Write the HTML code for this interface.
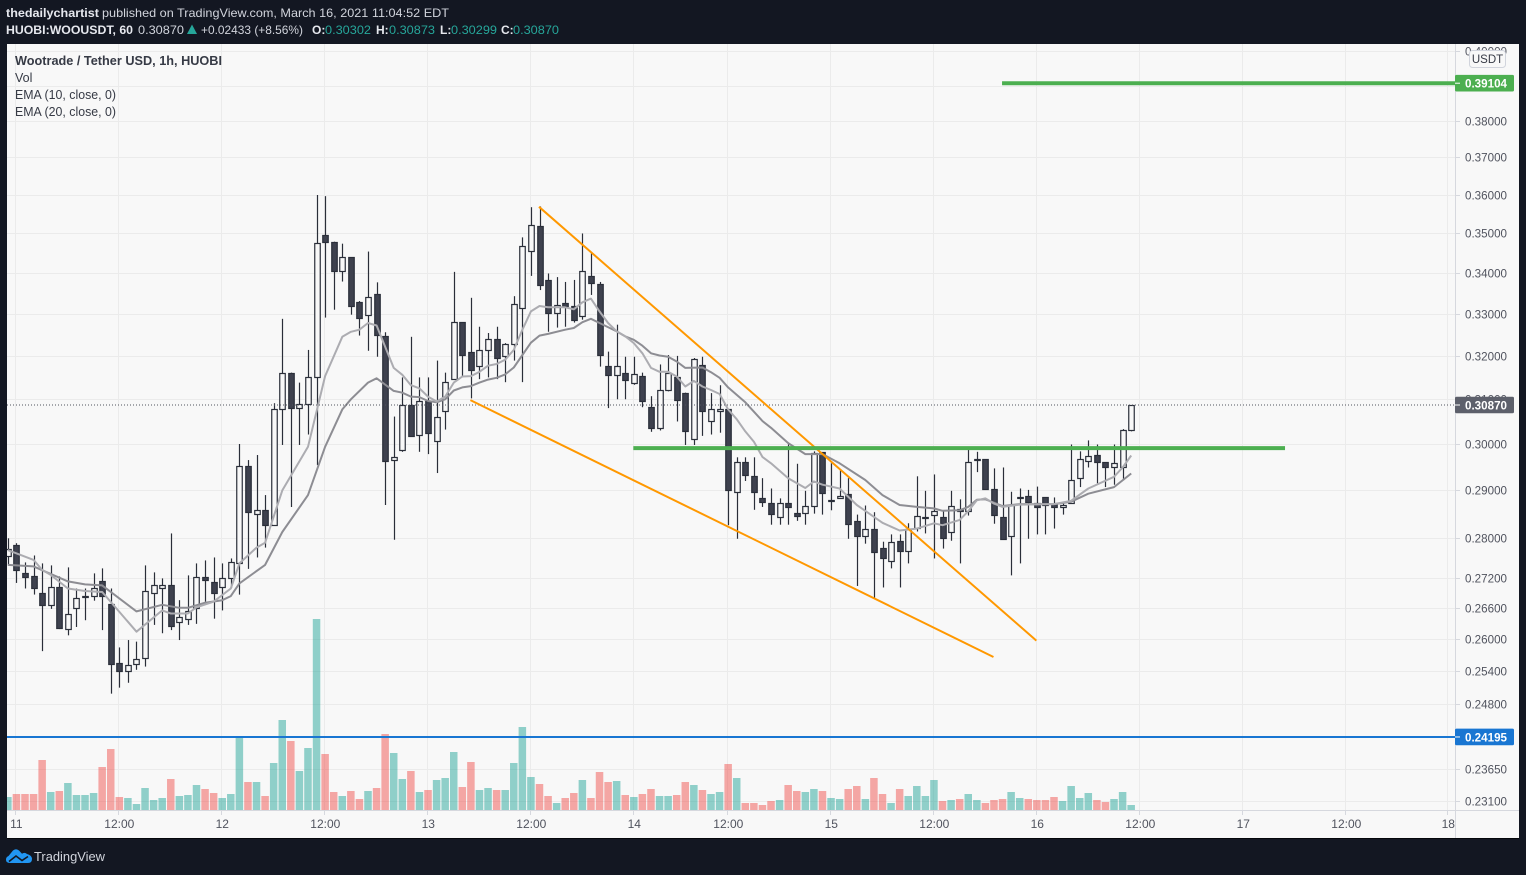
<!DOCTYPE html>
<html>
<head>
<meta charset="utf-8">
<title>HUOBI:WOOUSDT chart</title>
<style>
html,body{margin:0;padding:0;background:#131722;width:1526px;height:875px;overflow:hidden}
svg{display:block;font-family:"Liberation Sans",sans-serif}
</style>
</head>
<body>
<svg id="chart" xmlns="http://www.w3.org/2000/svg" width="1526" height="875" viewBox="0 0 1526 875">
  <defs>
    <clipPath id="plot-clip"><rect x="7" y="44" width="1448" height="766"/></clipPath>
  </defs>
  <rect x="7" y="44" width="1512" height="794" fill="#f8f8f8"/>
  <rect x="7" y="838" width="1512" height="1" fill="#05070b"/>
  <g id="grid"></g>
  <g clip-path="url(#plot-clip)">
    <g id="volume"></g>
    <g id="candles"></g>
    <g id="emas"></g>
    <g id="drawings"></g>
  </g>
  <line x1="1455.5" y1="44" x2="1455.5" y2="838" stroke="#d6d8de"/>
  <line x1="7" y1="810.5" x2="1519" y2="810.5" stroke="#d6d8de"/>
  <g id="price-axis"></g>
  <g id="time-axis"></g>
  <g id="pills"></g>

  <g>
    <rect x="1469.5" y="50.5" width="36" height="17" rx="3" fill="#f8f8f8" stroke="#d1d4dc"/>
    <text x="1487.5" y="63" text-anchor="middle" font-size="11.5" fill="#363a45">USDT</text>
  </g>

  <g font-size="12">
    <text x="6" y="17" font-weight="bold" fill="#e6e8ee" textLength="93" lengthAdjust="spacingAndGlyphs">thedailychartist</text>
    <text x="102" y="17" fill="#d1d4dc" textLength="347" lengthAdjust="spacingAndGlyphs">published on TradingView.com, March 16, 2021 11:04:52 EDT</text>
    <text x="6" y="34" font-weight="bold" fill="#e6e8ee" textLength="127" lengthAdjust="spacingAndGlyphs">HUOBI:WOOUSDT, 60</text>
    <text x="138" y="34" fill="#d1d4dc" textLength="46" lengthAdjust="spacingAndGlyphs">0.30870</text>
    <polygon points="187,34 197,34 192,24.5" fill="#26a69a"/>
    <text x="201" y="34" fill="#d1d4dc" textLength="102" lengthAdjust="spacingAndGlyphs">+0.02433 (+8.56%)</text>
    <text x="312" y="34" font-weight="bold" fill="#e6e8ee">O:</text>
    <text x="325" y="34" fill="#26a69a" textLength="46" lengthAdjust="spacingAndGlyphs">0.30302</text>
    <text x="376" y="34" font-weight="bold" fill="#e6e8ee">H:</text>
    <text x="389" y="34" fill="#26a69a" textLength="46" lengthAdjust="spacingAndGlyphs">0.30873</text>
    <text x="440" y="34" font-weight="bold" fill="#e6e8ee">L:</text>
    <text x="451" y="34" fill="#26a69a" textLength="46" lengthAdjust="spacingAndGlyphs">0.30299</text>
    <text x="501" y="34" font-weight="bold" fill="#e6e8ee">C:</text>
    <text x="513" y="34" fill="#26a69a" textLength="46" lengthAdjust="spacingAndGlyphs">0.30870</text>
  </g>

  <g font-size="12.5" fill="#363a45">
    <text x="15" y="65" font-weight="bold" textLength="207" lengthAdjust="spacingAndGlyphs">Wootrade / Tether USD, 1h, HUOBI</text>
    <text x="15" y="82">Vol</text>
    <text x="15" y="99" textLength="101" lengthAdjust="spacingAndGlyphs">EMA (10, close, 0)</text>
    <text x="15" y="116" textLength="101" lengthAdjust="spacingAndGlyphs">EMA (20, close, 0)</text>
  </g>

  <g>
    <path d="M6 859.5q0-2.5 2.5-3.5l4.5-5.5q3-2.5 6 0l3 3.2q2.5-1.7 5 .3q4.500 1.200 5 4.500q.2 4.500-4 4.500H10q-4.200 0-4-3.500Z" fill="#2196f3"/>
    <path d="M9 861.500l7-5.500 6 4.500 6-4" fill="none" stroke="#131722" stroke-width="1.600"/>
    <text x="34" y="861" font-size="13" fill="#d1d4dc" textLength="71" lengthAdjust="spacingAndGlyphs">TradingView</text>
  </g>
</svg>

<script>
// One entry per hourly bar, left to right.
const opens = [.2763,.2787,.2729,.2723,.269,.2666,.2701,.2621,.266,.2682,.2684,.2713,.2668,.2555,.254,.2553,.2566,.269,.2699,.2705,.2633,.2639,.266,.2721,.2711,.2701,.2719,.2749,.2952,.2851,.2858,.2828,.3077,.3161,.3081,.309,.3152,.3497,.3479,.3404,.344,.3328,.3297,.3348,.3247,.2965,.2986,.3086,.302,.3095,.3006,.3074,.3147,.328,.3209,.3177,.3214,.324,.3199,.3228,.3314,.3456,.352,.3382,.3302,.3326,.3319,.3295,.3392,.3372,.3177,.3156,.3161,.3136,.3154,.3083,.3036,.3122,.3152,.3115,.3011,.3179,.3052,.3074,.3077,.2897,.296,.293,.2883,.2874,.2845,.2874,.2852,.2852,.2866,.2982,.2878,.2883,.2893,.2835,.2804,.282,.2781,.2753,.2795,.2775,.2822,.2842,.2849,.2845,.2812,.286,.2856,.2965,.2967,.2902,.2845,.2805,.2883,.2887,.2874,.2885,.2872,.2864,.2874,.2926,.2962,.2975,.296,.2949,.2949,.303];
const highs = [.28,.279,.2751,.2765,.2749,.2745,.2723,.2741,.2699,.2699,.2729,.2739,.2699,.2585,.2599,.2596,.2745,.2731,.2719,.281,.2676,.2725,.2749,.2755,.2761,.2749,.2759,.30,.2965,.2976,.289,.3091,.3288,.3161,.3138,.3214,.36,.3597,.3479,.3474,.344,.3331,.3454,.3377,.3256,.3061,.315,.3245,.315,.315,.3189,.3161,.3403,.328,.3339,.3269,.3254,.3269,.323,.3343,.349,.3568,.357,.3399,.339,.3378,.3383,.35,.3451,.3378,.321,.3274,.3198,.3198,.3161,.3107,.318,.3202,.32,.3115,.3195,.3198,.3114,.3132,.3077,.2971,.2971,.2971,.2926,.2904,.2883,.2999,.2957,.2899,.2984,.2982,.2958,.2945,.2926,.2849,.2868,.2854,.2793,.2808,.2808,.2831,.293,.2899,.2934,.2858,.2899,.2881,.2988,.2983,.2967,.2947,.2949,.2897,.2904,.2901,.2908,.2885,.2885,.2874,.2999,.2984,.3008,.2999,.296,.2999,.3033,.3087];
const lows = [.2746,.271,.2699,.2687,.2578,.2659,.262,.2608,.2624,.2637,.2675,.2618,.2499,.251,.2519,.2543,.2549,.2628,.2612,.2618,.2599,.2628,.263,.2673,.264,.2656,.27,.2687,.2738,.2761,.2781,.2828,.2998,.2865,.2998,.3021,.2954,.3291,.331,.3379,.3298,.3248,.3212,.3198,.2869,.2797,.2983,.3017,.2983,.2978,.2937,.3032,.3147,.3152,.3102,.3146,.315,.3146,.3139,.3189,.3139,.3393,.3358,.3257,.3267,.3269,.3279,.3286,.3346,.3175,.308,.31,.31,.3133,.3082,.3027,.303,.3118,.305,.2998,.2998,.3018,.3021,.3025,.2827,.2799,.292,.2859,.2865,.2828,.2828,.2828,.2836,.2828,.2851,.2849,.2858,.2883,.2799,.2704,.2789,.268,.2701,.2739,.2701,.2749,.2814,.281,.2759,.2779,.2795,.2749,.2847,.2939,.2902,.283,.2799,.2725,.2749,.2799,.2808,.2808,.282,.2849,.2872,.2907,.2949,.2915,.2907,.2912,.2921,.3028];
const closes = [.2779,.2735,.2721,.2699,.2667,.2701,.2622,.265,.268,.2684,.2699,.2684,.2553,.254,.2552,.2564,.2694,.2705,.2705,.2625,.2644,.2655,.2721,.2715,.269,.2719,.2751,.2952,.2855,.2858,.2828,.3077,.3161,.3081,.309,.3152,.3476,.3479,.3404,.344,.3319,.3289,.3341,.3249,.2964,.2971,.3086,.3017,.3095,.3024,.3061,.314,.328,.3202,.3168,.3214,.324,.3195,.3228,.3324,.3469,.3522,.337,.3302,.3321,.3318,.3285,.3404,.3375,.3202,.3156,.3177,.3145,.3158,.3097,.3036,.312,.3161,.3099,.3029,.3193,.3074,.3077,.3077,.2901,.296,.2933,.2897,.2876,.2851,.2874,.2864,.2847,.2866,.298,.2895,.288,.2889,.2829,.2804,.282,.2773,.2759,.2793,.2775,.282,.2847,.2844,.2856,.2801,.2866,.2856,.296,.2967,.2902,.2849,.2799,.287,.2885,.2876,.2864,.287,.2864,.287,.2923,.2967,.2973,.296,.2949,.2958,.3031,.3087];
const volumes = [13,16,16,16,50,18,19,27,15,15,17,43,61,13,12,6,22,10,12,31,14,15,25,21,17,12,16,73,28,28,14,47,90,69,39,62,191,56,18,14,19,11,19,22,76,57,31,39,18,20,30,32,58,23,48,20,22,20,20,47,83,33,26,14,7,12,17,30,12,38,28,29,15,13,16,21,14,14,15,28,25,20,16,18,46,32,7,7,5,9,10,25,19,18,21,19,12,11,21,24,11,32,16,7,21,14,24,14,30,9,10,11,16,10,7,10,11,18,12,11,10,10,13,9,24,12,17,10,8,11,18,5];

// EMA vertices: bar number and price at that bar.
const ema10Bars = [0,3,4,5,7,9,11,15,18,19,21,22,24,26,27,29,30,32,35,37,39,40,41,42,43,45,46,47,48,49,50,51,52,53,54,55,56,57,58,59,60,61,62,63,65,66,67,68,69,70,71,72,73,74,75,76,77,78,79,80,81,82,83,84,85,86,87,88,89,91,93,94,95,97,99,102,104,106,108,109,111,112,113,114,115,116,118,122,124,126,129,130,131];
const ema10Values = [.2776,.2756,.2736,.2726,.2699,.2694,.2692,.2615,.2656,.265,.265,.2662,.2673,.2699,.2749,.2781,.2791,.29,.2994,.3153,.3245,.3257,.3262,.3278,.3272,.3172,.3156,.3132,.3125,.3106,.3095,.3106,.3138,.3152,.3153,.3163,.3177,.3181,.3191,.3214,.3262,.3306,.3319,.3316,.3316,.3311,.3328,.3337,.3306,.3278,.3258,.3246,.323,.3206,.3172,.3163,.3163,.3152,.3129,.3142,.3129,.3121,.3112,.3077,.3055,.3028,.3005,.2972,.2958,.2926,.2905,.2919,.2912,.2904,.2869,.2832,.2816,.282,.2831,.2827,.2838,.2856,.2879,.2883,.2872,.2865,.287,.2871,.2878,.2904,.2929,.2949,.2975];
const ema20Bars = [0,3,5,7,9,11,15,18,20,21,23,25,26,27,30,32,35,37,39,40,42,43,45,46,47,48,49,50,51,52,53,54,55,56,57,58,59,60,61,62,63,65,66,67,68,69,71,72,73,74,75,76,77,78,79,81,82,83,84,86,88,89,91,93,95,97,100,102,104,106,108,109,111,112,113,114,116,118,122,124,126,129,131];
const ema20Values = [.2746,.2743,.2728,.2713,.2707,.2705,.2654,.2667,.2661,.2661,.2671,.2676,.2684,.2709,.2746,.2813,.289,.2994,.3077,.31,.3138,.3148,.3119,.3115,.3106,.3105,.3096,.3093,.31,.312,.3127,.313,.3138,.3145,.3149,.3157,.3173,.3202,.3231,.3248,.3252,.3262,.3266,.328,.3288,.3278,.3258,.3246,.3238,.3224,.3206,.3201,.3198,.3187,.3172,.3173,.3162,.3149,.3127,.3093,.3051,.3036,.3002,.2978,.2978,.2958,.2922,.289,.2869,.2865,.2862,.2857,.2858,.2865,.288,.2881,.2867,.2871,.2871,.2876,.2893,.2907,.2936];

// Axis ticks. An empty label means the tick's text is hidden by a price label in the reference.
const priceTicks = [.40,.39,.38,.37,.36,.35,.34,.33,.32,.31,.30,.29,.28,.272,.266,.26,.254,.248,.2365,.231];
const priceTickLabels = ["0.40000","","0.38000","0.37000","0.36000","0.35000","0.34000","0.33000","0.32000","0.31000","0.30000","0.29000","0.28000","0.27200","0.26600","0.26000","0.25400","0.24800","0.23650","0.23100"];
const timeTickBars = [1,13,25,37,49,61,73,84,96,108,120,132,144,156,168];
const timeTickLabels = ["11","12:00","12","12:00","13","12:00","14","12:00","15","12:00","16","12:00","17","12:00","18"];

// Drawn annotations (bar / price anchors).
const wedgeUpperBars = [62,120];
const wedgeUpperPrices = [.3569,.2598];
const wedgeLowerBars = [54,115];
const wedgeLowerPrices = [.3098,.2567];
const supportBars = [73,149];
const supportPrices = [.2991,.2991];
const targetBars = [116,169];
const targetPrices = [.3907,.3907];
const lastPrice = .3087;
const bluePrice = .2421;

const SVGNS = 'http://www.w3.org/2000/svg';
const xOf = b => 7.85 + b * 8.575;
const yOf = p => 195 + 1366 * Math.log(.36 / p);
const make = (tag, parent, attrs) => {
  const el = document.createElementNS(SVGNS, tag);
  for (const k in attrs) el.setAttribute(k, attrs[k]);
  parent.appendChild(el);
  return el;
};

// Grid and axes
const gridG = document.getElementById('grid');
const priceAxisG = document.getElementById('price-axis');
const timeAxisG = document.getElementById('time-axis');
priceTicks.forEach((p, i) => {
  const y = Math.round(yOf(p) - .1) + .5;
  const g = make('line', gridG, {x1: 7, x2: 1455, y1: y, y2: y, stroke: '#ebebeb'});
  
  
  const tick = make('line', priceAxisG, {x1: 1455, x2: 1460, y1: y, y2: y, stroke: '#d6d8de'});
  
  
  if (priceTickLabels[i]) {
    const t = make('text', priceAxisG, {x: 1465, y: y + 3.8, 'font-size': 12, fill: '#50535e', textLength: 42, lengthAdjust: 'spacingAndGlyphs'});
    
    
    t.textContent = priceTickLabels[i];
  }
});
timeTickBars.forEach((b, i) => {
  const x = Math.round(xOf(b)) - .5;
  const g = make('line', gridG, {x1: x, x2: x, y1: 44, y2: 810, stroke: '#ebebeb'});
  
  
  const tick = make('line', timeAxisG, {x1: x, x2: x, y1: 810, y2: 815, stroke: '#d6d8de'});
  
  
  const t = make('text', timeAxisG, {x: x + .8, y: 828, 'font-size': 12, fill: '#50535e', 'text-anchor': 'middle'});
  
  
  t.textContent = timeTickLabels[i];
});

// Volume
const volG = document.getElementById('volume');
volumes.forEach((v, b) => {
  const up = closes[b] >= opens[b];
  const r = make('rect', volG, {x: xOf(b) - 3.75, y: 810 - v, width: 7.5, height: v, fill: up ? 'rgba(38,166,154,.5)' : 'rgba(239,83,80,.5)'});
  
  
});

// Candles
const candleG = document.getElementById('candles');
opens.forEach((o, b) => {
  const c = closes[b];
  const up = c >= o;
  const cx = Math.round(xOf(b)) + .5;
  const g = make('g', candleG, {});
  
  
  make('line', g, {x1: cx, x2: cx, y1: yOf(highs[b]), y2: yOf(lows[b]), stroke: '#2a2e39', 'stroke-width': 1.2});
  const top = Math.round(yOf(Math.max(o, c))) + .5;
  const h = Math.max(Math.round(yOf(Math.min(o, c))) + .5 - top, 1);
  make('rect', g, {x: cx - 2.75, y: top, width: 5.5, height: h, fill: up ? '#f8f8f8' : '#3e414e', stroke: '#2a2e39', 'stroke-width': 1.2});
});

// EMA lines
const emaG = document.getElementById('emas');
function drawEma(bars, values, colour, name) {
  const pts = bars.map((b, i) => xOf(b).toFixed(1) + ',' + yOf(values[i]).toFixed(1)).join(' ');
  const l = make('polyline', emaG, {points: pts, fill: 'none', stroke: colour, 'stroke-width': 2, 'stroke-linejoin': 'round'});
  
  
}
drawEma(ema20Bars, ema20Values, '#8d8d93', 'ema-20-line');
drawEma(ema10Bars, ema10Values, '#acacb1', 'ema-10-line');

// Drawings
const drawG = document.getElementById('drawings');
function drawSeg(bars, prices, colour, w, name) {
  const l = make('line', drawG, {x1: xOf(bars[0]) - .5, y1: yOf(prices[0]), x2: xOf(bars[1]) - .5, y2: yOf(prices[1]), stroke: colour, 'stroke-width': w});
  
  
}
const lastLine = make('line', drawG, {x1: 7, x2: 1455, y1: yOf(lastPrice), y2: yOf(lastPrice), stroke: '#50535e', 'stroke-width': 1, 'stroke-dasharray': '1 2'});


drawSeg(wedgeUpperBars, wedgeUpperPrices, '#ff9800', 2, 'wedge-upper-trendline');
drawSeg(wedgeLowerBars, wedgeLowerPrices, '#ff9800', 2, 'wedge-lower-trendline');
drawSeg(supportBars, supportPrices, '#4caf50', 4, 'support-line');
drawSeg(targetBars, targetPrices, '#4caf50', 4, 'target-line');
const blueLine = make('line', drawG, {x1: 7, x2: 1455, y1: yOf(bluePrice), y2: yOf(bluePrice), stroke: '#1976d2', 'stroke-width': 2});



// Price pills
const pillG = document.getElementById('pills');
function pill(price, text, colour, name) {
  const y = yOf(price);
  const g = make('g', pillG, {});
  
  
  make('rect', g, {x: 1455, y: y - 8.3, width: 59, height: 16.6, rx: 1.5, fill: colour});
  make('line', g, {x1: 1455, x2: 1460, y1: y, y2: y, stroke: '#ffffff'});
  const t = make('text', g, {x: 1465, y: y + 4.3, 'font-size': 12, 'font-weight': 'bold', fill: '#ffffff', textLength: 42, lengthAdjust: 'spacingAndGlyphs'});
  t.textContent = text;
}
pill(targetPrices[0], '0.39104', '#4caf50', 'target-price-label');
pill(lastPrice, '0.30870', '#5d606b', 'last-price-label');
pill(bluePrice, '0.24195', '#1976d2', 'level-price-label');
</script>
</body>
</html>
